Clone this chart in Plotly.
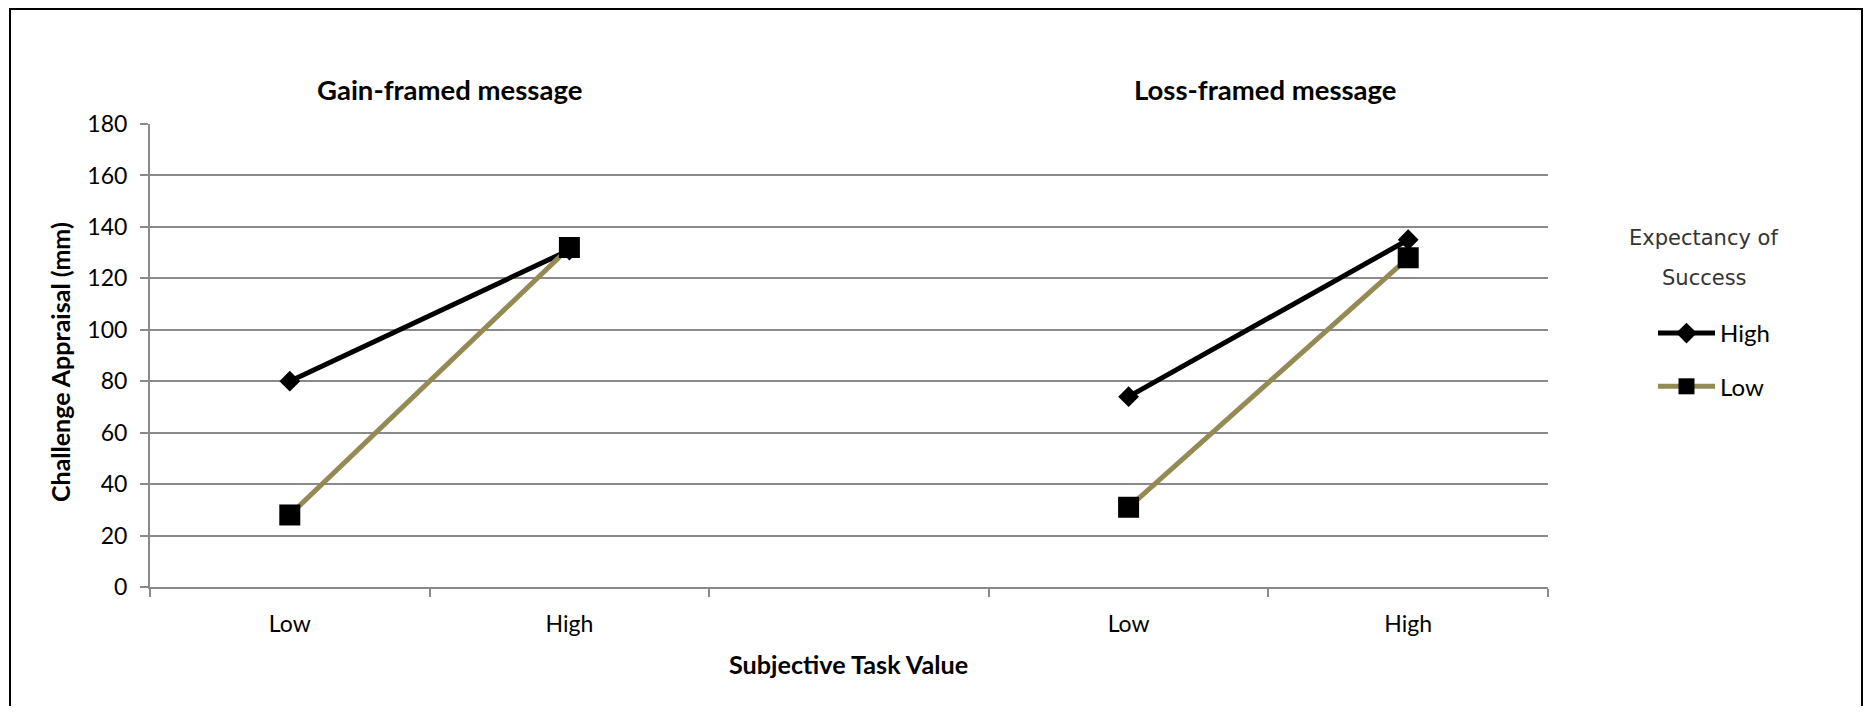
import plotly.graph_objects as go

# ---- data ----
category_ids = ["gain_low", "gain_high", "gap", "loss_low", "loss_high"]
tick_labels = ["Low", "High", "", "Low", "High"]
high_expectancy = [80, 131, None, 74, 135]
low_expectancy = [28, 132, None, 31, 128]
panel_titles = ["Gain-framed message", "Loss-framed message"]
series_names = ["High", "Low"]

OFF = 8  # default page body margin
W, H = 1872 - 2 * OFF, 714 - 2 * OFF
L, R, T, B = 150, 1548, 124, 587  # plot area in screen pixels


def px(x):
    return (x - L) / (R - L)


def py(y):
    return (B - y) / (B - T)


FONT = "Lato"
fig = go.Figure()

fig.add_trace(go.Scatter(
    x=category_ids, y=high_expectancy, name=series_names[0], mode="lines+markers",
    line=dict(color="#000000", width=5),
    marker=dict(symbol="diamond", size=16, color="#000000"),
    connectgaps=False, legendgroup="h",
))
fig.add_trace(go.Scatter(
    x=category_ids, y=low_expectancy, name=series_names[1], mode="lines+markers",
    line=dict(color="#948A54", width=5),
    marker=dict(symbol="square", size=21, color="#000000"),
    connectgaps=False, legendgroup="l",
))

grid = "#8a8a8a"
fig.update_layout(
    width=W, height=H,
    margin=dict(l=L - OFF, r=W - (R - OFF), t=T - OFF, b=H - (B - OFF), autoexpand=False),
    paper_bgcolor="white", plot_bgcolor="white",
    font=dict(family=FONT, size=23, color="#000000"),
    showlegend=True,
    legend=dict(
        x=px(1653), y=py(311), xanchor="left", yanchor="top",
        font=dict(family=FONT, size=24, color="#000000"),
        bgcolor="rgba(0,0,0,0)", tracegroupgap=19, itemwidth=57,
    ),
    xaxis=dict(
        type="category", categoryorder="array", categoryarray=category_ids,
        tickmode="array", tickvals=category_ids, ticktext=tick_labels,
        range=[-0.5, 4.5], tickson="boundaries",
        showgrid=False, zeroline=False,
        showline=True, linecolor=grid, linewidth=2,
        ticks="outside", ticklen=8, tickwidth=2, tickcolor=grid,
        ticklabelstandoff=15,
        tickfont=dict(family=FONT, size=23, color="#000000"),
    ),
    yaxis=dict(
        range=[0, 180], dtick=20, tick0=0,
        showgrid=True, gridcolor=grid, gridwidth=2,
        zeroline=False, showline=True, linecolor=grid, linewidth=2,
        ticks="outside", ticklen=8, tickwidth=2, tickcolor=grid,
        ticklabelstandoff=8,
        tickfont=dict(family=FONT, size=23, color="#000000"),
    ),
)

# chart frame
fig.add_shape(type="rect", xref="paper", yref="paper",
              x0=px(10), x1=px(1862), y0=py(740), y1=py(9),
              line=dict(color="#000000", width=2), layer="above")

# panel titles
fig.add_annotation(text="<b>" + panel_titles[0] + "</b>", xref="x", yref="paper",
                   x=0.57, y=py(89), showarrow=False, xanchor="center", yanchor="middle",
                   font=dict(family=FONT, size=27.5, color="#000000"))
fig.add_annotation(text="<b>" + panel_titles[1] + "</b>", xref="x", yref="paper",
                   x=3.49, y=py(89), showarrow=False, xanchor="center", yanchor="middle",
                   font=dict(family=FONT, size=27.5, color="#000000"))

# axis titles
fig.add_annotation(text="<b>Subjective Task Value</b>", xref="paper", yref="paper",
                   x=px(848), y=py(664), showarrow=False, xanchor="center", yanchor="middle",
                   font=dict(family=FONT, size=25.2, color="#000000"))
fig.add_annotation(text="<b>Challenge Appraisal (mm)</b>", xref="paper", yref="paper",
                   x=px(60), y=py(362), showarrow=False, textangle=-90,
                   xanchor="center", yanchor="middle",
                   font=dict(family=FONT, size=25, color="#000000"))

# legend title
fig.add_annotation(text="Expectancy of", xref="paper", yref="paper",
                   x=px(1703), y=py(238), showarrow=False, xanchor="center", yanchor="middle",
                   font=dict(family="DejaVu Sans", size=21, color="#333333"))
fig.add_annotation(text="Success", xref="paper", yref="paper",
                   x=px(1704), y=py(278), showarrow=False, xanchor="center", yanchor="middle",
                   font=dict(family="DejaVu Sans", size=21, color="#333333"))

fig.write_html("out.html")
